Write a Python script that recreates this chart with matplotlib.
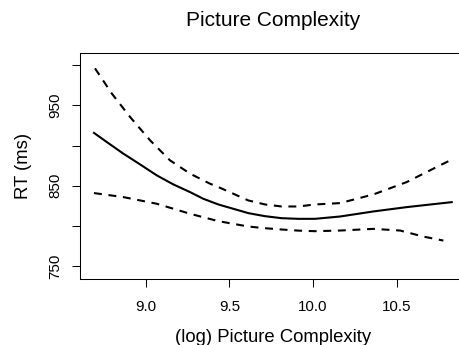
import matplotlib
matplotlib.use("Agg")
import matplotlib.pyplot as plt

plt.rcParams['font.family'] = ['Liberation Sans', 'DejaVu Sans']

# fitted curve and confidence band
fit_x = [8.691, 8.767, 8.866, 8.966, 9.066, 9.165, 9.265, 9.344, 9.434, 9.613, 9.713,
         9.812, 9.912, 10.011, 10.161, 10.36, 10.559, 10.828]
fit_y = [915.8, 904.5, 890.0, 876.6, 862.9, 851.6, 842.0, 833.7, 826.6, 815.8, 812.0,
         809.5, 808.7, 808.7, 811.6, 817.9, 823.3, 829.5]

upper_x = [8.697, 8.797, 8.906, 9.026, 9.145, 9.265, 9.384, 9.434, 9.613, 9.713, 9.812,
           9.912, 10.011, 10.161, 10.36, 10.559, 10.758, 10.828]
upper_y = [996.3, 965.0, 935.8, 906.6, 881.6, 865.0, 852.5, 848.3, 831.6, 826.6, 824.1,
           824.1, 826.6, 828.3, 839.1, 854.5, 875.4, 882.5]

lower_x = [8.691, 8.866, 9.066, 9.265, 9.434, 9.613, 9.713, 9.812, 9.912, 10.011, 10.161,
           10.36, 10.52, 10.658, 10.778]
lower_y = [840.8, 835.8, 827.5, 815.0, 805.8, 799.1, 797.0, 795.4, 794.0, 793.3, 794.1,
           796.2, 794.1, 786.6, 781.6]

x_ticks = [9.0, 9.5, 10.0, 10.5]
y_ticks = [750, 800, 850, 900, 950, 1000]
y_ticklabels = ['750', '', '850', '', '950', '']

W, H = 459, 345
fig = plt.figure(figsize=(W / 100, H / 100), dpi=100)
# plot box in pixels (right side runs past the image edge, as in the reference)
left, right, top, bottom = 80, 466.8, 53, 279
ax = fig.add_axes([left / W, 1 - bottom / H, (right - left) / W, (bottom - top) / H])

dash = (0, (3.8, 3.2))
ax.plot(fit_x, fit_y, color='black', lw=1.5, solid_joinstyle='round')
ax.plot(upper_x, upper_y, color='black', lw=1.5, linestyle=dash)
ax.plot(lower_x, lower_y, color='black', lw=1.5, linestyle=dash)

ax.set_xlim(8.6075, 10.918)
ax.set_ylim(733.7, 1015.4)

ax.set_xticks(x_ticks)
ax.set_xticklabels(['%.1f' % v for v in x_ticks])
ax.set_yticks(y_ticks)
ax.set_yticklabels(y_ticklabels, rotation=90, va='center')
ax.tick_params(direction='out', length=5.8, width=0.75, labelsize=10.9)
ax.tick_params(axis='x', pad=9)
ax.tick_params(axis='y', pad=7)

for s in ax.spines.values():
    s.set_linewidth(0.75)

fig.text(273.4 / W, 1 - 20 / H, 'Picture Complexity', fontsize=15, ha='center', va='center')
fig.text(273.4 / W, 1 - 337 / H, '(log) Picture Complexity', fontsize=13.3, ha='center', va='center')
fig.text(24 / W, 1 - 166 / H, 'RT (ms)', fontsize=13.3, ha='center', va='center', rotation=90)

fig.savefig('out.png', dpi=100)
